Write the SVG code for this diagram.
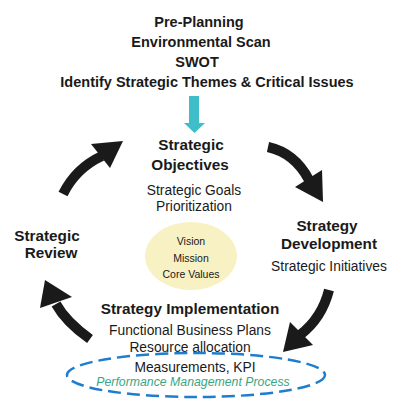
<svg xmlns="http://www.w3.org/2000/svg" width="400" height="417" viewBox="0 0 400 417">
<style>
text{font-family:"Liberation Sans",Arial,sans-serif;fill:#1a1a1a;text-anchor:middle}
.h{font-weight:bold;font-size:14.5px}
.t{font-weight:bold;font-size:15.3px}
.r{font-size:13.8px}
.c{font-size:10.5px}
.p{font-size:12.3px;font-style:italic;fill:#3aa582}
.shaft{fill:none;stroke:#1a1a1a;stroke-width:10}
.head{fill:#1a1a1a}
</style>
<rect width="400" height="417" fill="#ffffff"/>
<g id="preplanning">
<text class="h" x="199" y="27">Pre-Planning</text>
<text class="h" x="201" y="47">Environmental Scan</text>
<text class="h" x="197" y="67">SWOT</text>
<text class="h" x="207" y="87">Identify Strategic Themes &amp; Critical Issues</text>
</g>
<g id="objectives">
<text class="t" x="191" y="150">Strategic</text>
<text class="t" x="190" y="170">Objectives</text>
<text class="r" x="194" y="195">Strategic Goals</text>
<text class="r" x="194" y="211">Prioritization</text>
</g>
<g id="core">
<ellipse cx="191" cy="256" rx="46" ry="34" fill="#f8f1c4"/>
<text class="c" x="191" y="245">Vision</text>
<text class="c" x="191" y="262">Mission</text>
<text class="c" x="191" y="278">Core Values</text>
</g>
<g id="review">
<text class="t" x="47" y="241">Strategic</text>
<text class="t" x="51" y="258">Review</text>
</g>
<g id="development">
<text class="t" x="327" y="231">Strategy</text>
<text class="t" x="329" y="249">Development</text>
<text class="r" x="329" y="271">Strategic Initiatives</text>
</g>
<g id="implementation">
<text class="t" x="190" y="314">Strategy Implementation</text>
<text class="r" x="190" y="335">Functional Business Plans</text>
<text class="r" x="190" y="352">Resource allocation</text>
</g>
<g id="performance">
<ellipse cx="196" cy="375" rx="129" ry="22" fill="none" stroke="#1f7dd0" stroke-width="2.5" stroke-dasharray="13 6"/>
<text class="r" x="195" y="372">Measurements, KPI</text>
<text class="p" x="193" y="386">Performance Management Process</text>
</g>
<g id="connectors">
<rect x="189" y="96" width="10" height="28" fill="#3dbec8"/>
<polygon points="184,123 205,123 194.5,133" fill="#3dbec8"/>
<path class="shaft" d="M63,194 Q76,168 102,156"/>
<polygon class="head" points="91,144 123,141 110,168"/>
<path class="shaft" d="M268,147 Q295,153 309,180"/>
<polygon class="head" points="295,187 322,170 323,202"/>
<path class="shaft" d="M329,290 Q322,318 300,335"/>
<polygon class="head" points="290,322 313,345 283,352"/>
<path class="shaft" d="M90,339 Q66,322 56,304"/>
<polygon class="head" points="40,308 72,297 45,280"/>
</g>
</svg>
